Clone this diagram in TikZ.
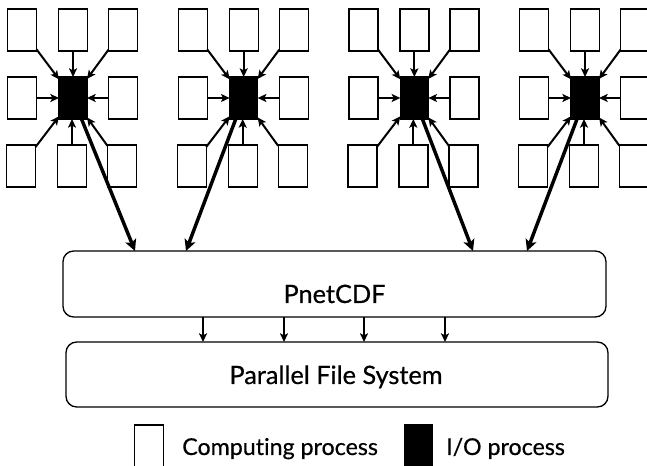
\documentclass[tikz,border=0pt]{standalone}
\usepackage{fontspec}
\setmainfont{Lato}[Ligatures=NoCommon, FakeBold=0.5]
\usetikzlibrary{arrows.meta}
\tikzset{
  comp/.style={draw, fill=white, line width=1pt, minimum width=21.75pt, minimum height=31.5pt, inner sep=0pt, outer sep=0pt},
  iobox/.style={draw, fill=black, line width=1pt, minimum width=21pt, minimum height=31.5pt, inner sep=0pt, outer sep=0pt},
  thin arrow/.style={line width=1.5pt, -{Stealth[length=6.5pt, width=6pt, inset=1.5pt]}},
  thick arrow/.style={line width=2.6pt, -{Stealth[length=8.5pt, width=8.5pt, inset=2pt]}},
  layer/.style={draw, line width=1pt, rounded corners=8pt, inner sep=0pt, outer sep=0pt},
  lbl/.style={font=\fontsize{19pt}{22pt}\selectfont, inner sep=0pt, anchor=base},
  leg/.style={font=\fontsize{17.4pt}{21pt}\selectfont, inner sep=0pt, anchor=base west}
}
\begin{document}
\begin{tikzpicture}[x=0.75pt, y=-0.75pt]
\useasboundingbox (0,0) rectangle (647,466);
\foreach \k in {1,2,3,4} {
  \pgfmathsetmacro{\cx}{73+170.67*(\k-1)}
  \node[iobox] (io\k) at (\cx,98) {};
  \node[comp] (a\k) at (\cx-51,30) {};
  \node[comp] (b\k) at (\cx,30) {};
  \node[comp] (c\k) at (\cx+50,30) {};
  \node[comp] (d\k) at (\cx-51,98) {};
  \node[comp] (e\k) at (\cx+50,98) {};
  \node[comp] (f\k) at (\cx-52,166) {};
  \node[comp] (g\k) at (\cx-1,166) {};
  \node[comp] (h\k) at (\cx+49,166) {};
  \draw[thin arrow] (a\k) -- (io\k);
  \draw[thin arrow] (b\k) -- (io\k);
  \draw[thin arrow] (c\k) -- (io\k);
  \draw[thin arrow] (d\k) -- (io\k);
  \draw[thin arrow] (e\k) -- (io\k);
  \draw[thin arrow] (f\k) -- (io\k);
  \draw[thin arrow] (g\k.north) -- (g\k.north |- io\k.south);
  \draw[thin arrow] (h\k) -- (io\k);
}
\node[layer, minimum width=407.25pt, minimum height=49.5pt] (pnet) at (334.5,284) {};
\node[lbl] (pnett) at (334.5,303) {PnetCDF};
\node[layer, minimum width=406.5pt, minimum height=48.75pt] (pfs) at (337,374.5) {};
\node[lbl] (pfst) at (336,384) {Parallel File System};
\coordinate (t1) at (135,251);
\coordinate (t2) at (186,251);
\coordinate (t3) at (473,251);
\coordinate (t4) at (527,251);
\draw[thick arrow] (io1) -- (pnet.north -| t1);
\draw[thick arrow] (io2) -- (pnet.north -| t2);
\draw[thick arrow] (io3) -- (pnet.north -| t3);
\draw[thick arrow] (io4) -- (pnet.north -| t4);
\foreach \x [count=\i] in {203,284,364,445} {
  \coordinate (s\i) at (\x,0);
  \draw[thin arrow] (pnet.south -| s\i) -- (pfs.north -| s\i);
}
\node[comp] (lc) at (149,446) {};
\node[leg] (lct) at (182,455) {Computing process};
\node[iobox] (lio) at (418.5,446) {};
\node[leg] (liot) at (446,455) {I/O process};
\end{tikzpicture}
\end{document}
